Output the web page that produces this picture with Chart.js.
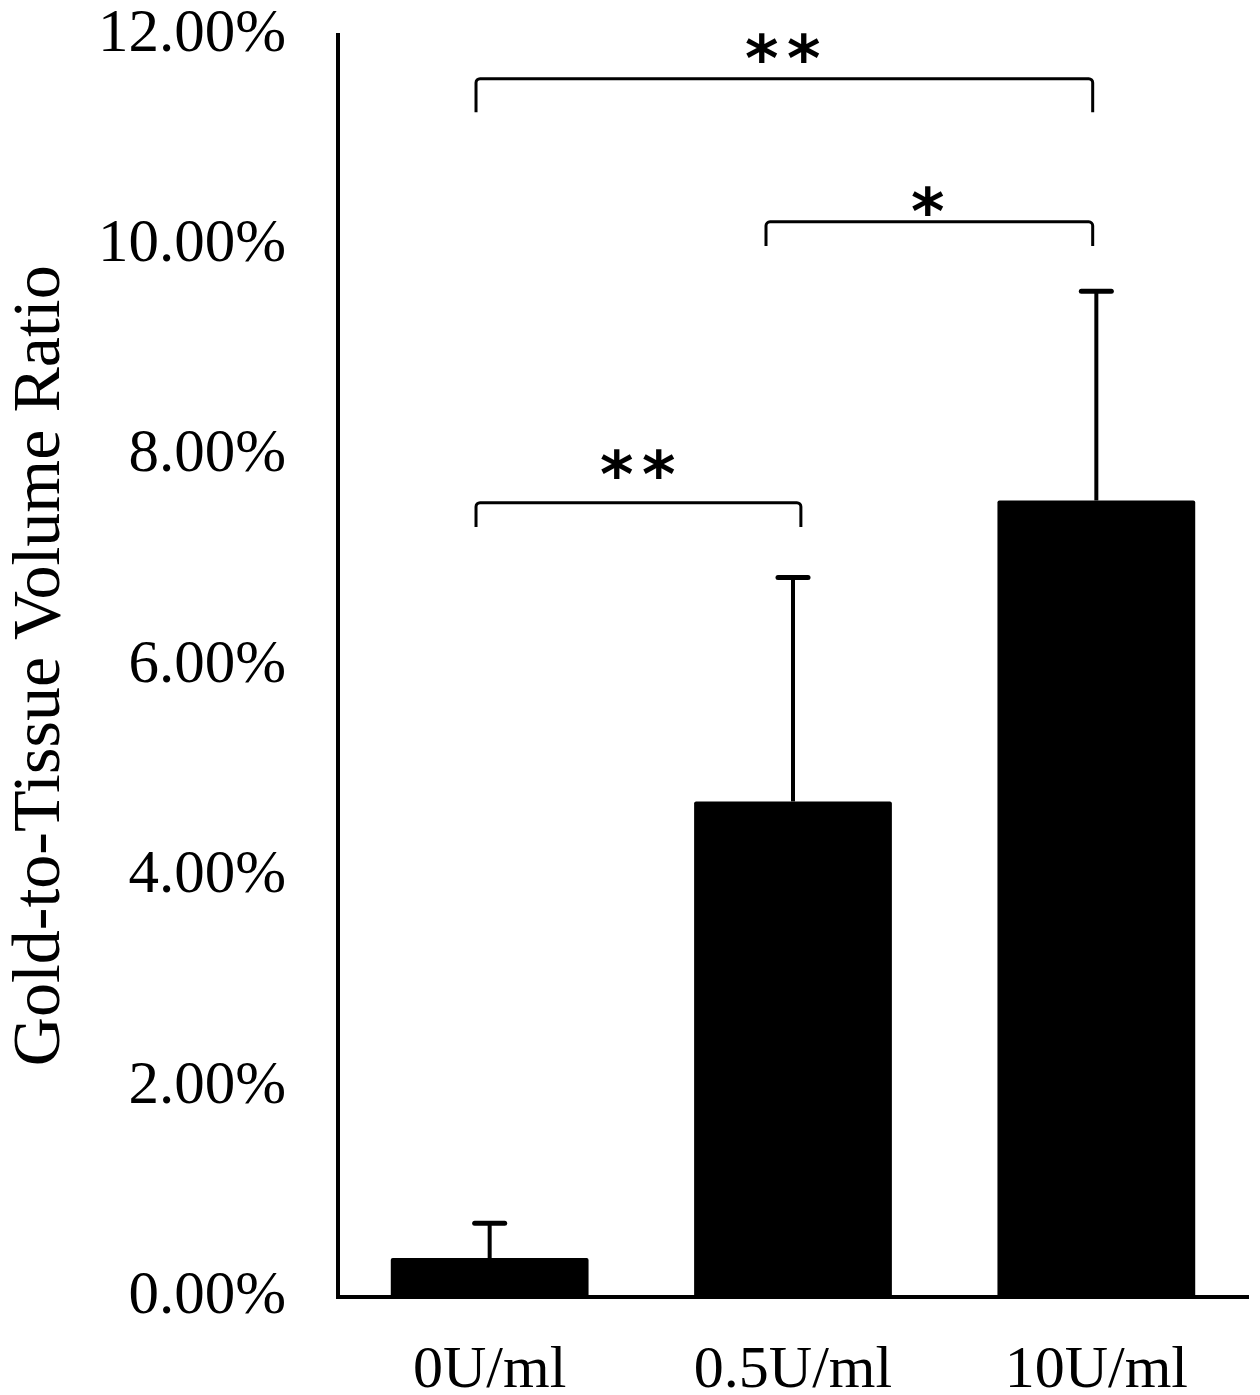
<!DOCTYPE html>
<html>
<head>
<meta charset="utf-8">
<title>Gold-to-Tissue Volume Ratio</title>
<script src="https://cdn.jsdelivr.net/npm/chart.js@4.4.0/dist/chart.umd.min.js"></script>
<style>
    html, body { margin: 0; padding: 0; background: #fff; }
    #wrap { width: 1260px; height: 1395px; }
</style>
</head>
<body>
<div id="wrap"><canvas id="ratioChart" width="1260" height="1395"></canvas></div>
<script>
// values (percent units)
const categories = ['0U/ml', '0.5U/ml', '10U/ml'];
const meanValues = [0.37, 4.71, 7.57];
const sdValues = [0.33, 2.13, 1.99];

const yMin = 0;
const yMax = 12;
const yStep = 2;

// significance brackets, in category index / value units
const bracketFrom = [-0.045, 0.911, -0.045];
const bracketTo = [1.988, 1.988, 1.026];
const bracketLevel = [11.58, 10.22, 7.55];
const bracketEnd = [11.26, 9.99, 7.32];
const starText = ['**', '*', '**'];
const starX = [0.966, 1.444, 0.488];
const starY = [11.87, 10.42, 7.92];

const serif = '"Liberation Serif", "Times New Roman", serif';

const errorBars = {
    id: 'errorBars',
    afterDatasetsDraw(chart) {
        const ctx = chart.ctx;
        const y = chart.scales.y;
        const meta = chart.getDatasetMeta(0);
        ctx.save();
        ctx.strokeStyle = '#000';
        meta.data.forEach((bar, i) => {
            const top = y.getPixelForValue(meanValues[i] + sdValues[i]);
            const base = y.getPixelForValue(meanValues[i]);
            ctx.lineWidth = 4;
            ctx.beginPath();
            ctx.moveTo(bar.x, base);
            ctx.lineTo(bar.x, top);
            ctx.stroke();
            ctx.lineWidth = 5;
            ctx.lineCap = 'round';
            ctx.beginPath();
            ctx.moveTo(bar.x - 15, top);
            ctx.lineTo(bar.x + 15, top);
            ctx.stroke();
            ctx.lineCap = 'butt';
        });
        ctx.restore();
    }
};

const brackets = {
    id: 'brackets',
    afterDraw(chart) {
        const ctx = chart.ctx;
        const xs = chart.scales.x;
        const ys = chart.scales.y;
        ctx.save();
        ctx.strokeStyle = '#000';
        ctx.fillStyle = '#000';
        ctx.lineWidth = 3;
        ctx.lineJoin = 'round';
        bracketFrom.forEach((from, i) => {
            const x1 = xs.getPixelForValue(from);
            const x2 = xs.getPixelForValue(bracketTo[i]);
            const yl = ys.getPixelForValue(bracketLevel[i]);
            const ye = ys.getPixelForValue(bracketEnd[i]);
            ctx.beginPath();
            ctx.moveTo(x1, ye);
            ctx.arcTo(x1, yl, x2, yl, 4);
            ctx.arcTo(x2, yl, x2, ye, 4);
            ctx.lineTo(x2, ye);
            ctx.stroke();

            // asterisks, one glyph at a time so the gap matches
            ctx.font = 'bold 64px "DejaVu Sans", sans-serif';
            ctx.textAlign = 'center';
            ctx.textBaseline = 'alphabetic';
            const cx = xs.getPixelForValue(starX[i]);
            const cy = ys.getPixelForValue(starY[i]);
            const chars = starText[i].split('');
            chars.forEach((ch, k) => {
                const m = ctx.measureText(ch);
                const off = (m.actualBoundingBoxAscent - m.actualBoundingBoxDescent) / 2;
                ctx.fillText(ch, cx + (k - (chars.length - 1) / 2) * 42, cy + off);
            });
        });
        ctx.restore();
    }
};

const ctx = document.getElementById('ratioChart').getContext('2d');
new Chart(ctx, {
    type: 'bar',
    data: {
        labels: categories,
        datasets: [{
            data: meanValues,
            backgroundColor: '#000',
            borderWidth: 0,
            borderRadius: 2,
            categoryPercentage: 1,
            barPercentage: 0.652
        }]
    },
    options: {
        responsive: false,
        animation: false,
        layout: { padding: { top: 34, right: 12, bottom: 0, left: 0 } },
        plugins: {
            legend: { display: false },
            tooltip: { enabled: false }
        },
        scales: {
            x: {
                grid: { display: false },
                border: { display: true, color: '#000', width: 4 },
                ticks: {
                    color: '#000',
                    padding: 30,
                    font: { family: serif, size: 60 }
                },
                afterFit(scale) { scale.height = 98; }
            },
            y: {
                min: yMin,
                max: yMax,
                grid: {
                    display: true,
                    drawOnChartArea: false,
                    drawTicks: true,
                    tickLength: 48,
                    tickColor: 'rgba(0,0,0,0)'
                },
                border: { display: true, color: '#000', width: 4 },
                ticks: {
                    stepSize: yStep,
                    color: '#000',
                    padding: 4,
                    font: { family: serif, size: 61, lineHeight: 1 },
                    callback: (v) => v.toFixed(2) + '%'
                },
                title: {
                    display: true,
                    text: 'Gold-to-Tissue Volume Ratio',
                    color: '#000',
                    padding: 0,
                    font: { family: serif, size: 68 }
                },
                afterFit(scale) { scale.width = 338; }
            }
        }
    },
    plugins: [errorBars, brackets]
});
</script>
</body>
</html>
